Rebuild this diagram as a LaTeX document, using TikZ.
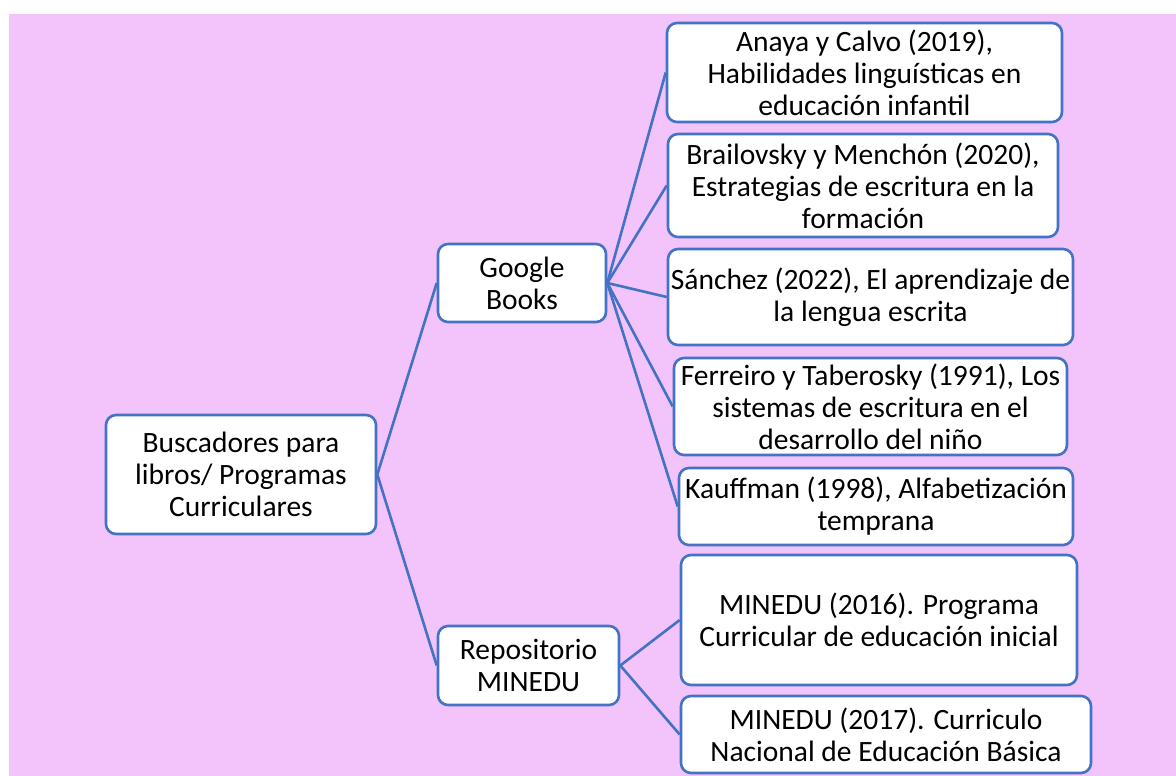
\documentclass[tikz,border=0pt]{standalone}
\usepackage{fontspec}
\setmainfont{Carlito}
\definecolor{bgpink}{HTML}{F3C4FB}
\definecolor{edgeblue}{HTML}{4472C4}
\tikzset{
  box/.style={draw=edgeblue, line width=2.6pt, fill=white, rounded corners=10pt,
    align=center, inner sep=0pt, font=\fontsize{29.5}{32}\selectfont},
  link/.style={draw=edgeblue, line width=2.6pt}
}
\newcommand{\boxat}[6]{% name, x1, y1, x2, y2, text
  \node[box, minimum width=#4-#2, minimum height=#5-#3] (#1) at ({(#2+#4)/2},{(#3+#5)/2}) {#6};}
\begin{document}
\begin{tikzpicture}[x=1pt,y=-1pt]
\useasboundingbox (0,0) rectangle (1176,776);
\fill[bgpink] (9,14) rectangle (1176,776);
\boxat{root}{106}{415}{376}{534}{Buscadores para\\libros/ Programas\\Curriculares}
\boxat{gb}{438}{244}{606}{322}{Google\\Books}
\boxat{rep}{438}{626}{619}{705}{Repositorio\\MINEDU}
\boxat{a}{667}{23}{1062}{122}{Anaya y Calvo (2019),\\Habilidades linguísticas en\\educación infantil}
\boxat{b}{668}{134}{1058}{237}{Brailovsky y Menchón (2020),\\Estrategias de escritura en la\\formación}
\boxat{c}{668}{249}{1073}{345}{Sánchez (2022), El aprendizaje de\\la lengua escrita}
\boxat{d}{674}{358}{1067}{455}{Ferreiro y Taberosky (1991), Los\\sistemas de escritura en el\\desarrollo del niño}
\boxat{e}{679}{468}{1073}{545}{Kauffman (1998), Alfabetización\\temprana}
\boxat{f}{681}{555}{1077}{685}{MINEDU (2016). Programa\\Curricular de educación inicial}
\boxat{g}{681}{696}{1091}{773}{MINEDU (2017). Curriculo\\Nacional de Educación Básica}
\draw[link] (root.east) -- (gb.west);
\draw[link] (root.east) -- (rep.west);
\foreach \n in {a,b,c,d,e} \draw[link] (gb.east) -- (\n.west);
\foreach \n in {f,g} \draw[link] (rep.east) -- (\n.west);
\end{tikzpicture}
\end{document}
